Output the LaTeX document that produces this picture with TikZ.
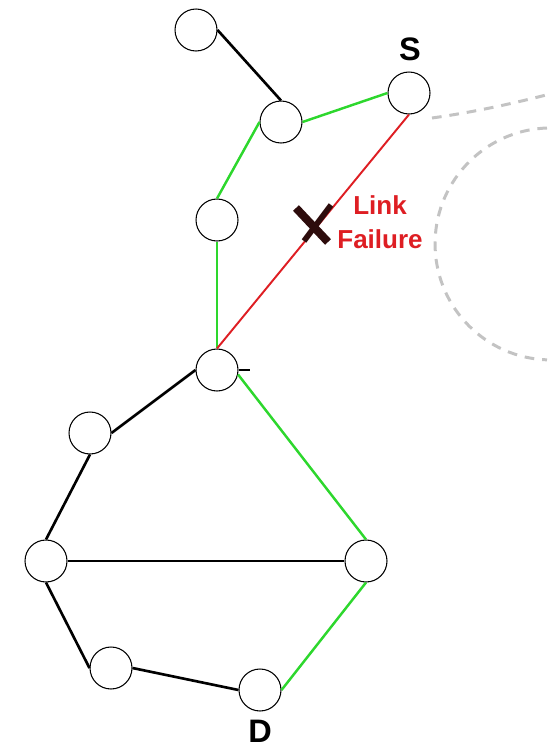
\documentclass[tikz,border=0pt]{standalone}
\usepackage{fontspec}
\setmainfont{Liberation Sans}
\usetikzlibrary{positioning}
\definecolor{pathgreen}{RGB}{45,215,45}
\definecolor{failred}{RGB}{222,30,35}
\definecolor{ringgray}{RGB}{195,195,195}
\definecolor{crossdark}{RGB}{45,12,12}
\newcommand{\BigLabel}{\fontsize{18.5}{21}\selectfont\bfseries}

\begin{document}
\begin{tikzpicture}[x=0.02cm,y=-0.02cm,
    router/.style={circle,draw,fill=white,line width=.6pt,minimum size=.84cm,inner sep=0pt},
    wire/.style={line width=1.5pt},
    backup/.style={pathgreen,line width=1.4pt},
    ring/.style={ringgray,line width=1.7pt,dash pattern=on 5.5pt off 4.5pt}]
    \useasboundingbox (0,0) rectangle (550,747);
    % neighbouring domain, dashed
    \draw[ring] (432,118) .. controls (475,112) and (515,103) .. (550,94);
    \draw[ring] (547,128) arc[start angle=-92,end angle=-268,radius=116];
    \node[router] (top) at (196,30) {};
    \node[router] (hub) at (281,122) {};
    \node[router] (src) at (409,93) {};
    \node[router] (mid) at (217,220) {};
    \node[router] (join) at (217,370) {};
    \node[router] (upl) at (90,433) {};
    \node[router] (left) at (46,561) {};
    \node[router] (right) at (366,561) {};
    \node[router] (lowl) at (111,668) {};
    \node[router] (dst) at (260,690) {};
    \node[font=\BigLabel] (srclbl) at (410,49) {S};
    \node[font=\BigLabel] (dstlbl) at (260,731) {D};
    \draw[wire] (top.east) -- (hub.north);
    \draw[wire] (join.west) -- (upl.east);
    \draw[wire] (upl.south) -- (left.north);
    \draw[wire] (left.east) -- (right.west);
    \draw[wire] (left.south) -- (lowl.west);
    \draw[wire] (lowl.east) -- (dst.west);
    \coordinate (stub) at (250,370);
    \draw[line width=.8pt] (join.east) -- (stub);
    \draw[backup] (hub.east) -- (src.west);
    \draw[backup] (hub.west) -- (mid.north);
    \draw[backup] (mid.south) -- (join.north);
    \draw[backup] (join.-12) -- (right.north);
    \draw[backup] (dst.east) -- (right.south);
    \draw[failred,line width=1.1pt] (src.south) -- (join.north);
    % broken link
    \coordinate (xa) at (296,208);
    \coordinate (xb) at (328,242);
    \coordinate (xc) at (331,205);
    \coordinate (xd) at (304,241);
    \draw[crossdark,line width=4.6pt] (xa) -- (xb);
    \draw[crossdark,line width=3.2pt] (xc) -- (xd);
    \node[failred,font=\fontsize{14.8}{19.3}\selectfont\bfseries,align=center] (fail) at (380,222) {Link\\Failure};
\end{tikzpicture}
\end{document}
